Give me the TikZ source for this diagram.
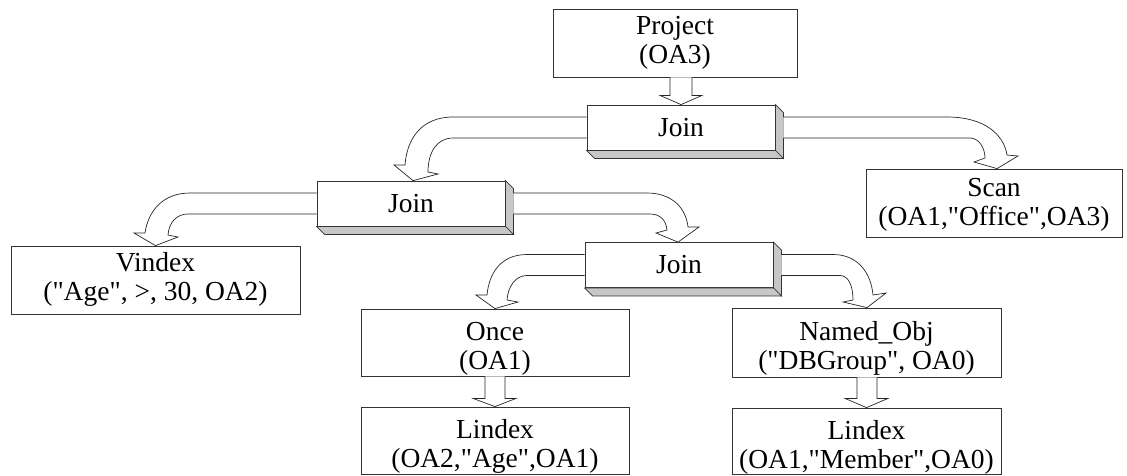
\documentclass[tikz,border=0pt]{standalone}
\usepackage{fontspec}
\setmainfont{Liberation Serif}[Ligatures=TeXOff]
\usetikzlibrary{calc}
\newcommand\twolines[3]{\raisebox{0pt}[\height][\dimexpr\depth-#1\relax]{\begin{tabular}{@{}c@{}}#2\\#3\end{tabular}}}
\begin{document}
\begin{tikzpicture}[x=1pt,y=-1pt,
  font=\fontsize{27.5}{29}\selectfont,
  box/.style={draw=black!80, line width=0.8pt, fill=white, align=center, inner sep=0pt, minimum height=68pt},
  joinbox/.style={draw=black!80, line width=0.8pt, fill=white, minimum width=188pt, minimum height=45pt, inner sep=0pt},
  blk/.style={draw=black!85, line width=0.7pt, fill=white, line join=miter},
  depth/.style={draw=black!80, line width=0.7pt, fill=black!22, line join=miter}]
\useasboundingbox (0,0) rectangle (1127,475);

% nodes
\node[box, minimum width=244pt] (p) at (675,43) {\twolines{0pt}{Project}{(OA3)}};
\node[joinbox] (j1) at (681,127.5) {Join};
\node[joinbox] (j2) at (411,203.5) {Join};
\node[joinbox] (j3) at (679,265) {Join};
\node[box, minimum width=289pt] (v) at (155.5,280) {\twolines{0pt}{Vindex}{("Age", >, 30, OA2)}};
\node[box, minimum width=256pt] (s) at (994,203) {\twolines{4pt}{Scan}{(OA1,"Office",OA3)}};
\node[box, minimum width=268pt, minimum height=67pt] (o) at (495,342.5) {\twolines{14pt}{Once}{(OA1)}};
\node[box, minimum width=269pt, minimum height=69pt] (n) at (866.5,342.5) {\twolines{14pt}{Named\_Obj}{("DBGroup", OA0)}};
\node[box, minimum width=268pt, minimum height=67pt] (l1) at (495,440.5) {\twolines{14pt}{Lindex}{(OA2,"Age",OA1)}};
\node[box, minimum width=269pt, minimum height=66pt] (l2) at (866.5,441) {\twolines{14pt}{Lindex}{(OA1,"Member",OA0)}};

% 3D depth of the Join boxes
\foreach \j in {j1,j2,j3}{
  \draw[depth] (\j.north east) -- ++(8,8) -- ($(\j.south east)+(8,8)$) -- (\j.south east) -- cycle;
  \draw[depth] (\j.south west) -- ++(8,8) -- ($(\j.south east)+(8,8)$) -- (\j.south east) -- cycle;
}

% straight block arrows
\draw[blk] ($(p.south)+(-5,0)$) -- ($(p.south)+(-5,18)$) -- ($(p.south)+(-15,18)$) -- (j1.north)
  -- ($(p.south)+(27,18)$) -- ($(p.south)+(17,18)$) -- ($(p.south)+(17,0)$);
\draw[blk] ($(o.south)+(-10,0)$) -- ($(o.south)+(-10,22)$) -- ($(o.south)+(-22,22)$) -- (l1.north)
  -- ($(o.south)+(21,22)$) -- ($(o.south)+(10,22)$) -- ($(o.south)+(10,0)$);
\draw[blk] ($(n.south)+(-9.5,0)$) -- ($(n.south)+(-9.5,21)$) -- ($(n.south)+(-21.5,21)$) -- (l2.north)
  -- ($(n.south)+(21.5,21)$) -- ($(n.south)+(10.5,21)$) -- ($(n.south)+(10.5,0)$);

% curved block arrows
% Join1 -> Join2
\draw[blk] ($(j1.west)+(0,-10.5)$) -- (453,117) .. controls (422,117) and (407,138) .. (405,165)
  -- (394,165) -- ($(j2.north)+(2,0)$) -- (438,174) -- (428,172)
  .. controls (428,152) and (437,138) .. (453,138) -- ($(j1.west)+(0,10.5)$);
% Join1 -> Scan
\draw[blk] ($(j1.east)+(8,-10.5)$) -- (947,117) .. controls (985,117) and (1004,135) .. (1007,155)
  -- (1018,156) -- ($(s.north)+(3,0)$) -- (974,162) -- (985,158)
  .. controls (985,148) and (979,138) .. (970,138) -- ($(j1.east)+(8,10.5)$);
% Join2 -> Vindex
\draw[blk] ($(j2.west)+(0,-10.5)$) -- (190,193) .. controls (162,193) and (148,212) .. (145,233)
  -- (134,233) -- (v.north) -- (178,237) -- (168,235)
  .. controls (169,222) and (177,214) .. (188,214) -- ($(j2.west)+(0,10.5)$);
% Join2 -> Join3
\draw[blk] ($(j2.east)+(8,-10.5)$) -- (647,193) .. controls (672,193) and (686,208) .. (688,227)
  -- (699,227) -- ($(j3.north)+(-1,0)$) -- (656,233) -- (667,230)
  .. controls (666,220) and (660,214) .. (650,214) -- ($(j2.east)+(8,10.5)$);
% Join3 -> Once
\draw[blk] ($(j3.west)+(0,-10.5)$) -- (527,254.5) .. controls (500,254.5) and (489,274) .. (487,295)
  -- (476,295) -- (o.north) -- (518,302) -- (507,300)
  .. controls (508,287) and (515,275.5) .. (527,275.5) -- ($(j3.west)+(0,10.5)$);
% Join3 -> Named_Obj
\draw[blk] ($(j3.east)+(8,-10.5)$) -- (833,254.5) .. controls (858,254.5) and (871,273) .. (873,295)
  -- (886,293) -- ($(n.north)+(0.5,0)$) -- (843,302) -- (853,300)
  .. controls (853,285) and (848,275.5) .. (840,275.5) -- ($(j3.east)+(8,10.5)$);
\end{tikzpicture}
\end{document}
